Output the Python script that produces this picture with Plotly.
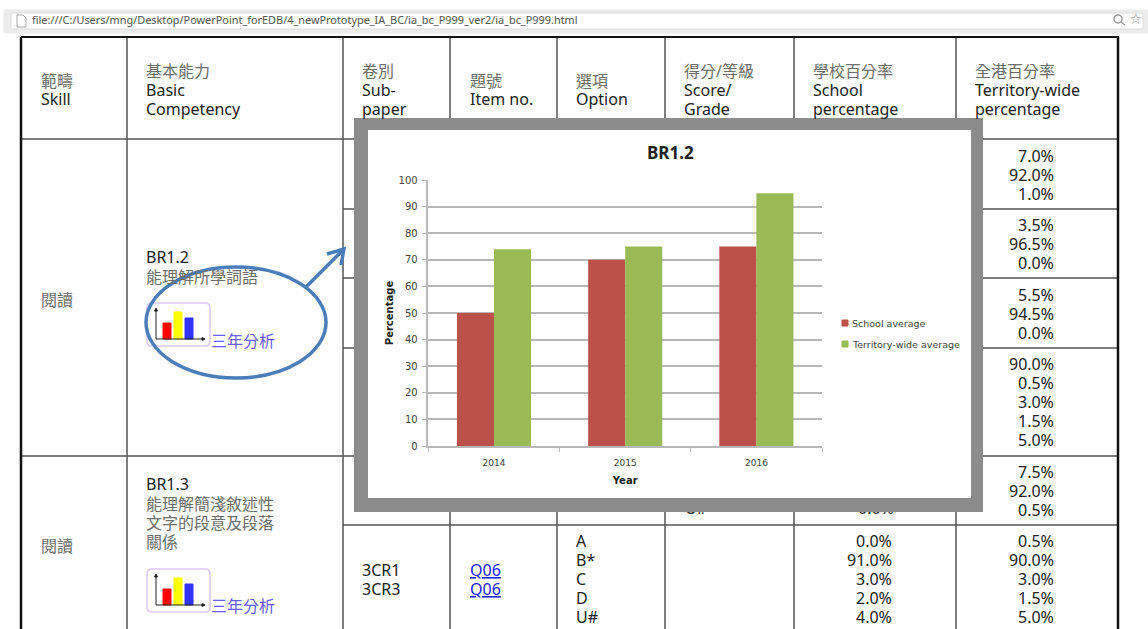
import plotly.graph_objects as go

W, H = 1148, 629

# ---- chart data
years = ["2014", "2015", "2016"]
school_avg = [50, 70, 75]
territory_avg = [74, 75, 95]
y_ticks = list(range(0, 101, 10))
series_names = ["School average", "Territory-wide average"]

# ---- table text
url = "file:///C:/Users/mng/Desktop/PowerPoint_forEDB/4_newPrototype_IA_BC/ia_bc_P999_ver2/ia_bc_P999.html"
territory_pct = ["7.0%", "92.0%", "1.0%", "3.5%", "96.5%", "0.0%", "5.5%", "94.5%", "0.0%",
                 "90.0%", "0.5%", "3.0%", "1.5%", "5.0%", "7.5%", "92.0%", "0.5%",
                 "0.5%", "90.0%", "3.0%", "1.5%", "5.0%"]
territory_y = [156, 175, 194, 225, 244, 263, 295, 314, 333,
               364, 383, 402, 421, 440, 472, 491, 510, 541, 560, 579, 598, 617]
school_pct = ["0.0%", "91.0%", "3.0%", "2.0%", "4.0%"]
options = ["A", "B*", "C", "D", "U#"]
row_y = [541, 560, 579, 598, 617]
header = [
    (40, [(81, "範疇"), (99, "Skill")]),
    (145, [(71, "基本能力"), (90, "Basic"), (109, "Competency")]),
    (361, [(71, "卷別"), (90, "Sub-"), (109, "paper")]),
    (469, [(81, "題號"), (99, "Item no.")]),
    (575, [(81, "選項"), (99, "Option")]),
    (683, [(71, "得分/等級"), (90, "Score/"), (109, "Grade")]),
    (812, [(71, "學校百分率"), (90, "School"), (109, "percentage")]),
    (974, [(71, "全港百分率"), (90, "Territory-wide"), (109, "percentage")]),
]
body = [
    (40, 300, "閱讀"), (145, 257, "BR1.2"), (145, 277, "能理解所學詞語"),
    (40, 546, "閱讀"), (145, 484, "BR1.3"), (145, 504, "能理解簡淺敘述性"),
    (145, 523, "文字的段意及段落"), (145, 542, "關係"),
    (361, 570, "3CR1"), (361, 589, "3CR3"),
]

# ---- styles
FONT = "Noto Sans, Noto Sans CJK TC, sans-serif"
INK, CJK, LINE, GRID = "#222222", "#6e6e6e", "#555555", "#b8b8b8"
RED, GREEN, BLUE = "#bc5149", "#9aba55", "#4a7ebb"


def px(x):
    return x / W


def py(y):
    return 1 - y / H


ann = []


def text(x, y, s, color=None, size=16, anchor="left", font=FONT):
    if color is None:
        color = CJK if any(ord(c) > 0x2e80 for c in s) else INK
    ann.append(dict(x=px(x), y=py(y), xref="paper", yref="paper", text=s, showarrow=False,
                    xanchor=anchor, yanchor="middle", borderpad=0,
                    font=dict(family=font, size=size, color=color)))


shapes = []


def seg(x0, y0, x1, y1, color=LINE, width=1.5, layer="below"):
    shapes.append(dict(type="line", xref="paper", yref="paper", layer=layer,
                       x0=px(x0), y0=py(y0), x1=px(x1), y1=py(y1),
                       line=dict(color=color, width=width)))


def box(x0, y0, x1, y1, fill, line=None, layer="below"):
    shapes.append(dict(type="rect", xref="paper", yref="paper", layer=layer,
                       x0=px(x0), y0=py(y0), x1=px(x1), y1=py(y1), fillcolor=fill,
                       line=dict(color=line or fill, width=1)))


def pth(points, color, width=1, fill=None, layer="below", closed=False):
    d = "M" + " L".join(f"{px(a):.5f},{py(b):.5f}" for a, b in points) + (" Z" if closed else "")
    shapes.append(dict(type="path", xref="paper", yref="paper", layer=layer, path=d,
                       fillcolor=fill or "rgba(0,0,0,0)", line=dict(color=color, width=width)))


# browser bar
box(4, 10, W, 33, "#ececec")
box(11, 13, 1143, 29, "#ffffff", "#dddddd")
text(31, 20, url, color="#555555", size=10.9)
pth([(17, 15), (23, 15), (26, 18), (26, 27), (17, 27)], "#aaaaaa", 1, closed=True)
shapes.append(dict(type="circle", xref="paper", yref="paper", layer="below",
                   x0=px(1114), y0=py(23), x1=px(1122), y1=py(15),
                   line=dict(color="#999999", width=1.5)))
seg(1121, 22, 1125, 25, "#999999", 1.5)
text(1135, 19, "☆", color="#999999", size=15, anchor="center", font="DejaVu Sans")

# table rules
for x in [127, 343, 450, 557, 665, 794, 956]:
    seg(x, 38, x, H)
seg(21, 139, 1118, 139)
seg(21, 456, 1118, 456)
for y in [209, 278, 348, 525]:
    seg(343, y, 1118, y)
seg(21, 37, 1119, 37, "#111111", 2)
seg(21, 37, 21, H, "#111111", 2.5)
seg(1118, 37, 1118, H, "#111111", 2.5)

# table texts
for x, rows in header:
    for y, s in rows:
        text(x, y, s)
for x, y, s in body:
    text(x, y, s)
for s, y in zip(territory_pct, territory_y):
    text(1055, y, s, anchor="right")
for s, o, y in zip(school_pct, options, row_y):
    text(893, y, s, anchor="right")
    text(575, y, o)
text(469, 570, "<u>Q06</u>", color="#2222ee")
text(469, 589, "<u>Q06</u>", color="#2222ee")

# icons
for top, label_y in [(303, 341), (569, 606)]:
    shapes.append(dict(type="path", xref="paper", yref="paper", layer="below",
                       path=(f"M{px(152):.5f},{py(top):.5f} L{px(205):.5f},{py(top):.5f} "
                             f"Q{px(210):.5f},{py(top):.5f} {px(210):.5f},{py(top+5):.5f} "
                             f"L{px(210):.5f},{py(top+38):.5f} "
                             f"Q{px(210):.5f},{py(top+43):.5f} {px(205):.5f},{py(top+43):.5f} "
                             f"L{px(152):.5f},{py(top+43):.5f} "
                             f"Q{px(147):.5f},{py(top+43):.5f} {px(147):.5f},{py(top+38):.5f} "
                             f"L{px(147):.5f},{py(top+5):.5f} "
                             f"Q{px(147):.5f},{py(top):.5f} {px(152):.5f},{py(top):.5f} Z"),
                       line=dict(color="#dcc8fb", width=1.5), fillcolor="#ffffff"))
    b = top + 36
    box(163, b - 16, 171, b, "#ff0000")
    box(174, b - 27, 182, b, "#ffff00")
    box(185, b - 21, 193, b, "#3333ff")
    pth([(156, top + 6), (156, b), (204, b)], "#222222", 1)
    pth([(154.5, top + 8), (156, top + 5), (157.5, top + 8)], "#222222", 1, fill="#222222", closed=True)
    pth([(202, b - 1.5), (205, b), (202, b + 1.5)], "#222222", 1, fill="#222222", closed=True)
    text(210, label_y, "三年分析", color="#6a5cf5")

# fragments showing below the popup, drawn in the page layer so the popup hides them
page_traces = [
    go.Scatter(x=[685, 858], y=[510, 510], mode="text", text=["U#", "0.0%"],
               textposition="middle right", cliponaxis=False,
               textfont=dict(family=FONT, size=16, color=INK), hoverinfo="skip", showlegend=False),
    go.Scatter(x=[354, 983, 983, 354, 354], y=[118, 118, 512, 512, 118], mode="lines", fill="toself",
               fillcolor="#8c8c8c", line=dict(width=0), hoverinfo="skip", showlegend=False),
    go.Scatter(x=[368, 971, 971, 368, 368], y=[130, 130, 498, 498, 130], mode="lines", fill="toself",
               fillcolor="#ffffff", line=dict(width=0), hoverinfo="skip", showlegend=False),
]

# callout
shapes.append(dict(type="circle", xref="paper", yref="paper", layer="above",
                   x0=px(146), y0=py(378), x1=px(326), y1=py(267),
                   line=dict(color=BLUE, width=3.5)))
pth([(306, 287), (343, 250)], BLUE, 3.5, layer="above")
pth([(327, 254), (344, 249), (341, 265)], BLUE, 3.5, layer="above")

# chart title
text(670, 153, "<b>BR1.2</b>", color="#222222", size=17)
ann[-1]["xanchor"] = "center"

# chart legend
for y, name, colour in zip([323, 344], series_names, [RED, GREEN]):
    box(842, y - 3, 848, y + 3, colour, layer="above")
    text(851, y, name, color="#444444", size=9.5, font="DejaVu Sans")

fig = go.Figure(page_traces)
for tr in fig.data:
    tr.update(xaxis="x", yaxis="y")
fig.add_trace(go.Bar(name=series_names[0], x=years, y=school_avg, marker=dict(color=RED, line_width=0),
                     xaxis="x2", yaxis="y2"))
fig.add_trace(go.Bar(name=series_names[1], x=years, y=territory_avg, marker=dict(color=GREEN, line_width=0),
                     xaxis="x2", yaxis="y2"))

title_font = dict(family="DejaVu Sans", size=10, color="#222222", weight="bold")

fig.update_layout(
    width=W, height=H, margin=dict(l=0, r=0, t=0, b=0, autoexpand=False), autosize=False,
    paper_bgcolor="#ffffff", plot_bgcolor="rgba(0,0,0,0)",
    barmode="group", bargap=0.435, bargroupgap=0,
    shapes=shapes, annotations=ann, showlegend=False,
    xaxis=dict(domain=[0, 1], range=[0, W], visible=False, fixedrange=True),
    yaxis=dict(domain=[0, 1], range=[H, 0], visible=False, fixedrange=True),
    xaxis2=dict(domain=[px(428.4), px(822)], anchor="y2", type="category", tickson="boundaries",
                ticks="outside", ticklen=4, tickcolor="#b8b8b8", showline=True, linecolor="#b8b8b8",
                linewidth=1.5, showgrid=False, ticklabelstandoff=7,
                tickfont=dict(family="DejaVu Sans", size=9, color="#444444"),
                title=dict(text="Year", font=title_font, standoff=10)),
    yaxis2=dict(domain=[py(446), py(180)], anchor="x2", range=[0, 100], tickvals=y_ticks,
                ticks="outside", ticklen=5, tickcolor="#b8b8b8", showline=True, linecolor="#b8b8b8",
                linewidth=1.5, gridcolor=GRID, gridwidth=1.5, zeroline=False,
                tickfont=dict(family="DejaVu Sans", size=10, color="#444444"),
                ticklabelstandoff=2,
                title=dict(text="Percentage", font=title_font, standoff=3)),
)

fig.write_html("out.html", config={"displayModeBar": False},
               post_script="document.body.style.margin='0';document.body.style.overflow='hidden';")
